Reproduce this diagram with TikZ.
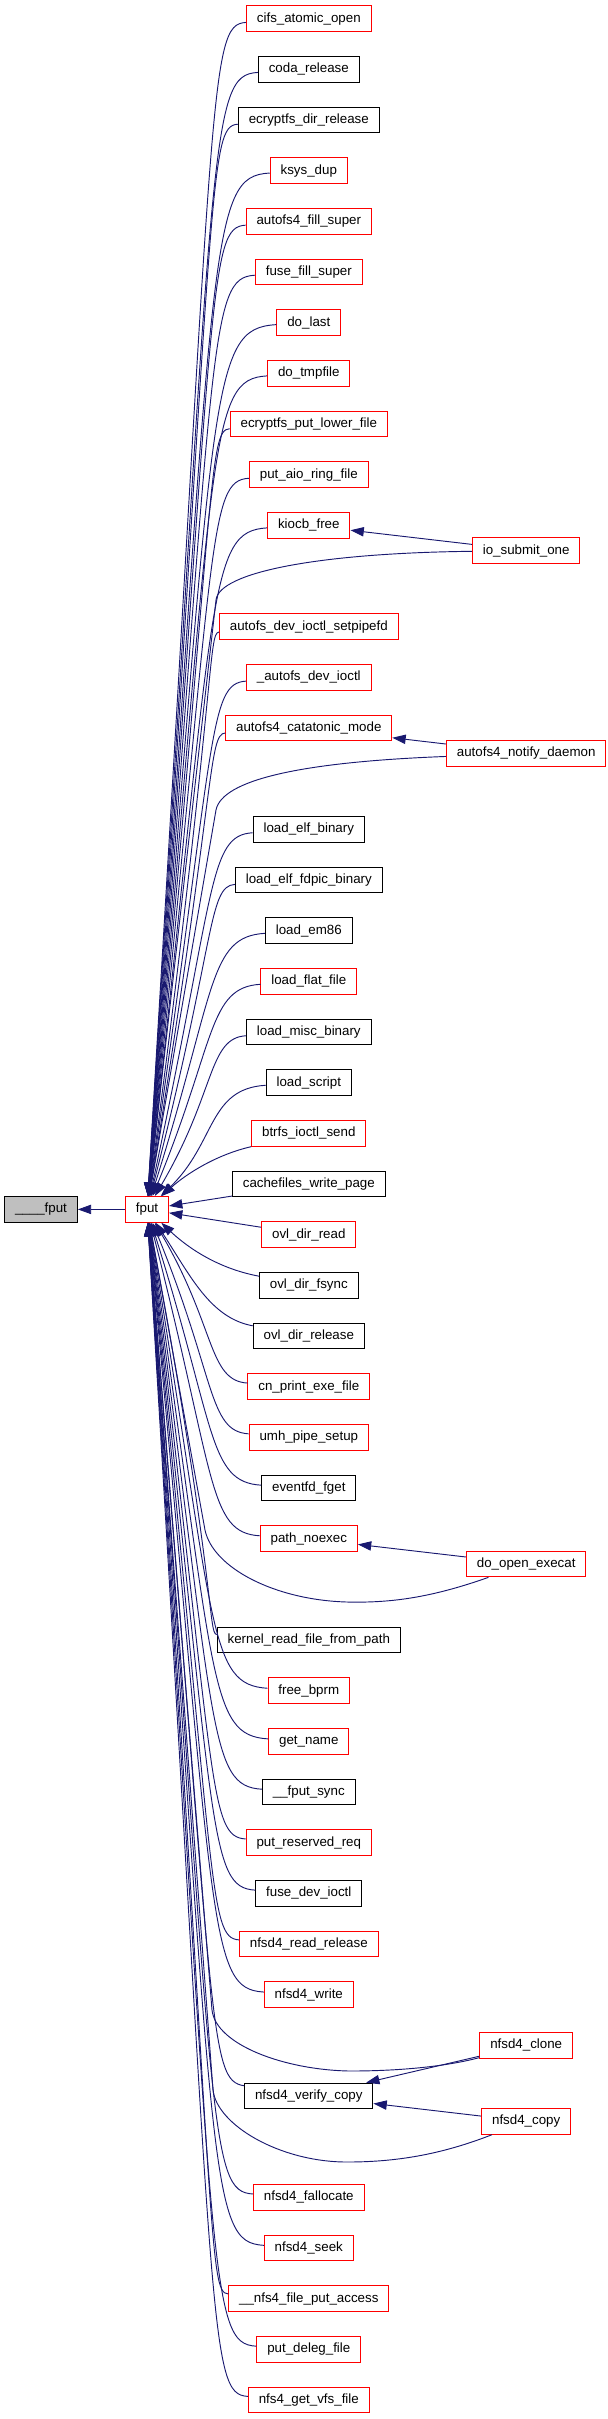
\documentclass[tikz,border=0pt]{standalone}
\usepackage{fontspec}
\setmainfont{Liberation Sans}
\usetikzlibrary{arrows.meta}
\definecolor{edgeblue}{HTML}{191970}
\definecolor{curgray}{HTML}{BFBFBF}

\begin{document}
\begin{tikzpicture}[x=0.75pt, y=-0.75pt,
    callnode/.style={draw, line width=0.75pt, inner xsep=7.8pt, inner ysep=0pt,
                     minimum height=19.3pt, fill=white, font=\fontsize{10}{12}\selectfont},
    redbox/.style={callnode, draw=red},
    blackbox/.style={callnode, draw=black},
    curbox/.style={callnode, draw=black, fill=curgray},
    calledge/.style={-{Triangle[length=10pt, width=7pt]}, draw=edgeblue, line width=0.7pt}
]
\useasboundingbox (0,0) rectangle (607,2419);

\node[curbox]   (curfput)     at (41,1209.4)    {\_\_\_\_fput};
\node[redbox]   (fput)        at (147,1209.4)   {fput};

\node[redbox]   (cifs)        at (308.8,18.7)   {cifs\_atomic\_open};
\node[blackbox] (coda)        at (308.8,69.4)   {coda\_release};
\node[blackbox] (ecrdir)      at (308.8,120.0)  {ecryptfs\_dir\_release};
\node[redbox]   (ksysdup)     at (308.8,170.7)  {ksys\_dup};
\node[redbox]   (autofill)    at (308.8,221.4)  {autofs4\_fill\_super};
\node[redbox]   (fusefill)    at (308.8,272.0)  {fuse\_fill\_super};
\node[redbox]   (dolast)      at (308.8,322.7)  {do\_last};
\node[redbox]   (dotmpfile)   at (308.8,373.4)  {do\_tmpfile};
\node[redbox]   (ecrlower)    at (308.8,424.0)  {ecryptfs\_put\_lower\_file};
\node[redbox]   (putaio)      at (308.8,474.7)  {put\_aio\_ring\_file};
\node[redbox]   (kiocbfree)   at (308.8,525.4)  {kiocb\_free};
\node[redbox]   (iosubmit)    at (526.2,550.7)  {io\_submit\_one};
\node[redbox]   (setpipefd)   at (308.8,626.7)  {autofs\_dev\_ioctl\_setpipefd};
\node[redbox]   (autoioctl)   at (308.8,677.4)  {\_autofs\_dev\_ioctl};
\node[redbox]   (catatonic)   at (308.8,728.0)  {autofs4\_catatonic\_mode};
\node[redbox]   (notify)      at (526.2,753.4)  {autofs4\_notify\_daemon};
\node[blackbox] (loadelf)     at (308.8,829.4)  {load\_elf\_binary};
\node[blackbox] (loadfdpic)   at (308.8,880.0)  {load\_elf\_fdpic\_binary};
\node[blackbox] (loadem)      at (308.8,930.7)  {load\_em86};
\node[redbox]   (loadflat)    at (308.8,981.4)  {load\_flat\_file};
\node[blackbox] (loadmisc)    at (308.8,1032.0) {load\_misc\_binary};
\node[blackbox] (loadscript)  at (308.8,1082.7) {load\_script};
\node[redbox]   (btrfssend)   at (308.8,1133.4) {btrfs\_ioctl\_send};
\node[blackbox] (cachewrite)  at (308.8,1184.0) {cachefiles\_write\_page};
\node[redbox]   (ovlread)     at (308.8,1234.7) {ovl\_dir\_read};
\node[blackbox] (ovlfsync)    at (308.8,1285.4) {ovl\_dir\_fsync};
\node[blackbox] (ovlrelease)  at (308.8,1336.0) {ovl\_dir\_release};
\node[redbox]   (cnprint)     at (308.8,1386.7) {cn\_print\_exe\_file};
\node[redbox]   (umhpipe)     at (308.8,1437.4) {umh\_pipe\_setup};
\node[blackbox] (eventfd)     at (308.8,1488.0) {eventfd\_fget};
\node[redbox]   (pathnoexec)  at (308.8,1538.7) {path\_noexec};
\node[redbox]   (doopen)      at (526.2,1564.0) {do\_open\_execat};
\node[blackbox] (kernelread)  at (308.8,1640.0) {kernel\_read\_file\_from\_path};
\node[redbox]   (freebprm)    at (308.8,1690.7) {free\_bprm};
\node[redbox]   (getname)     at (308.8,1741.3) {get\_name};
\node[blackbox] (fputsync)    at (308.8,1792.0) {\_\_fput\_sync};
\node[redbox]   (putreserved) at (308.8,1842.7) {put\_reserved\_req};
\node[blackbox] (fuseioctl)   at (308.8,1893.3) {fuse\_dev\_ioctl};
\node[redbox]   (readrelease) at (308.8,1944.0) {nfsd4\_read\_release};
\node[redbox]   (nfswrite)    at (308.8,1994.7) {nfsd4\_write};
\node[redbox]   (nfsclone)    at (526.2,2045.3) {nfsd4\_clone};
\node[blackbox] (verifycopy)  at (308.8,2096.0) {nfsd4\_verify\_copy};
\node[redbox]   (nfscopy)     at (526.2,2121.3) {nfsd4\_copy};
\node[redbox]   (fallocate)   at (308.8,2197.3) {nfsd4\_fallocate};
\node[redbox]   (nfsseek)     at (308.8,2248.0) {nfsd4\_seek};
\node[redbox]   (putaccess)   at (308.8,2298.7) {\_\_nfs4\_file\_put\_access};
\node[redbox]   (putdeleg)    at (308.8,2349.3) {put\_deleg\_file};
\node[redbox]   (getvfs)      at (308.8,2400.0) {nfs4\_get\_vfs\_file};

\draw[calledge] (fput) -- (curfput);

\draw[calledge] (cifs) .. controls (208,24.7) and (216,78.7) .. (fput);
\draw[calledge] (coda) .. controls (208,75.4) and (216,129.4) .. (fput);
\draw[calledge] (ecrdir) .. controls (208,126) and (216,180) .. (fput);
\draw[calledge] (ksysdup) .. controls (208,176.7) and (216,230.7) .. (fput);
\draw[calledge] (autofill) .. controls (208,227.4) and (216,281.4) .. (fput);
\draw[calledge] (fusefill) .. controls (208,278) and (216,332) .. (fput);
\draw[calledge] (dolast) .. controls (208,328.7) and (216,382.7) .. (fput);
\draw[calledge] (dotmpfile) .. controls (208,379.4) and (216,433.4) .. (fput);
\draw[calledge] (ecrlower) .. controls (208,430) and (216,484) .. (fput);
\draw[calledge] (putaio) .. controls (208,480.7) and (216,534.7) .. (fput);
\draw[calledge] (kiocbfree) .. controls (208,531.4) and (216,585.4) .. (fput);
\draw[calledge] (iosubmit) -- (kiocbfree);
\draw[calledge] (iosubmit) .. controls (320,553) and (219,572) .. (216,600) -- (fput);
\draw[calledge] (setpipefd) .. controls (208,632.7) and (216,686.7) .. (fput);
\draw[calledge] (autoioctl) .. controls (208,683.4) and (216,737.4) .. (fput);
\draw[calledge] (catatonic) .. controls (208,734) and (216,788) .. (fput);
\draw[calledge] (notify) -- (catatonic);
\draw[calledge] (notify) .. controls (300,762) and (222,780) .. (216,810) -- (fput);
\draw[calledge] (loadelf) .. controls (208,835.4) and (216,889.4) .. (fput);
\draw[calledge] (loadfdpic) .. controls (208,886) and (216,940) .. (fput);
\draw[calledge] (loadem) .. controls (208,936.7) and (216,990.7) .. (fput);
\draw[calledge] (loadflat) .. controls (208,987.4) and (216,1041.4) .. (fput);
\draw[calledge] (loadmisc) .. controls (208,1038) and (216,1092) .. (fput);
\draw[calledge] (loadscript) .. controls (208,1088.7) and (216,1142.7) .. (fput);
\draw[calledge] (btrfssend) .. controls (215,1155) and (185,1175) .. (fput);
\draw[calledge] (cachewrite) -- (fput);
\draw[calledge] (ovlread) -- (fput);
\draw[calledge] (ovlfsync) .. controls (215,1268) and (185,1245) .. (fput);
\draw[calledge] (ovlrelease) .. controls (210,1318) and (190,1275) .. (fput);
\draw[calledge] (cnprint) .. controls (208,1380.7) and (216,1326.7) .. (fput);
\draw[calledge] (umhpipe) .. controls (208,1431.4) and (216,1377.4) .. (fput);
\draw[calledge] (eventfd) .. controls (208,1482) and (216,1428) .. (fput);
\draw[calledge] (pathnoexec) .. controls (208,1532.7) and (216,1478.7) .. (fput);
\draw[calledge] (doopen) -- (pathnoexec);
\draw[calledge] (doopen) .. controls (430,1598) and (390,1603) .. (347,1602)
    .. controls (275,1600) and (213,1568) .. (205,1530) -- (fput);
\draw[calledge] (kernelread) .. controls (208,1634) and (216,1580) .. (fput);
\draw[calledge] (freebprm) .. controls (208,1684.7) and (216,1630.7) .. (fput);
\draw[calledge] (getname) .. controls (208,1735.3) and (216,1681.3) .. (fput);
\draw[calledge] (fputsync) .. controls (208,1786) and (216,1732) .. (fput);
\draw[calledge] (putreserved) .. controls (208,1836.7) and (216,1782.7) .. (fput);
\draw[calledge] (fuseioctl) .. controls (208,1887.3) and (216,1833.3) .. (fput);
\draw[calledge] (readrelease) .. controls (208,1938) and (216,1884) .. (fput);
\draw[calledge] (nfswrite) .. controls (208,1988.7) and (216,1934.7) .. (fput);
\draw[calledge] (nfsclone) .. controls (440,2068) and (390,2071) .. (350,2071)
    .. controls (285,2070) and (216,2045) .. (212,2010) -- (fput);
\draw[calledge] (nfsclone) -- (verifycopy);
\draw[calledge] (verifycopy) .. controls (208,2080) and (216,2036) .. (fput);
\draw[calledge] (nfscopy) -- (verifycopy);
\draw[calledge] (nfscopy) .. controls (440,2155) and (395,2162) .. (347,2162)
    .. controls (280,2162) and (217,2125) .. (213,2090) -- (fput);
\draw[calledge] (fallocate) .. controls (208,2191.3) and (216,2137.3) .. (fput);
\draw[calledge] (nfsseek) .. controls (208,2242) and (216,2188) .. (fput);
\draw[calledge] (putaccess) .. controls (208,2292.7) and (216,2238.7) .. (fput);
\draw[calledge] (putdeleg) .. controls (208,2343.3) and (216,2289.3) .. (fput);
\draw[calledge] (getvfs) .. controls (208,2394) and (216,2340) .. (fput);

\end{tikzpicture}
\end{document}
